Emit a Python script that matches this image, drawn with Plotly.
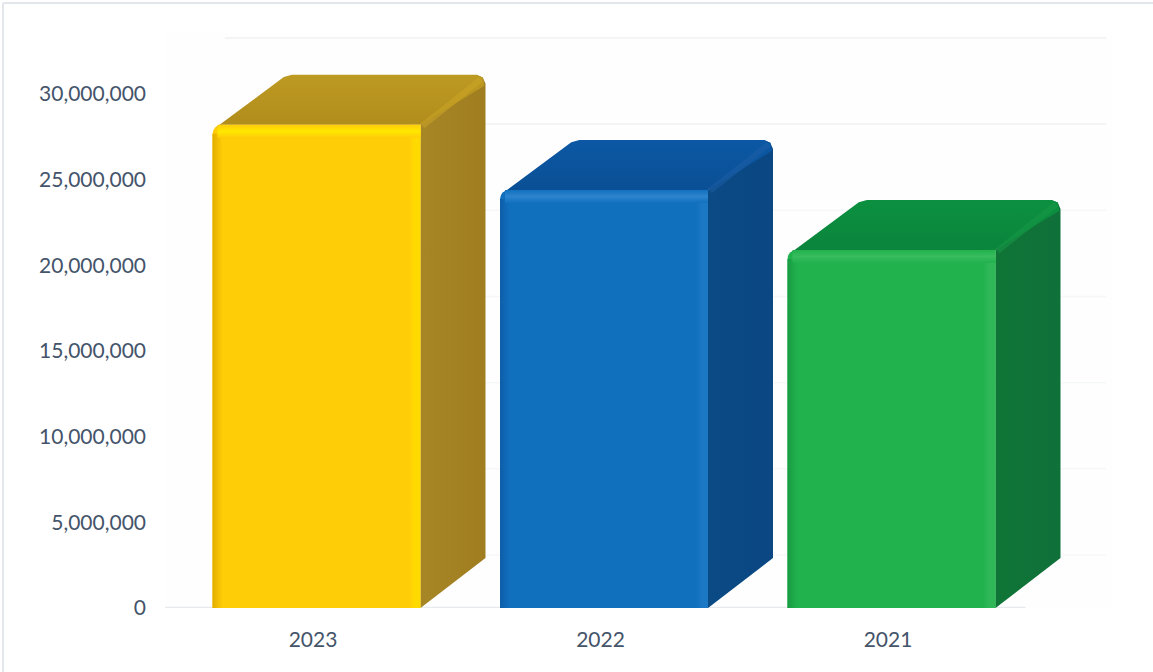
import plotly.graph_objects as go

# Annual totals shown as extruded columns
years = ["2023", "2022", "2021"]
totals = [28200000, 24400000, 20900000]
y_ticks = [0, 5000000, 10000000, 15000000, 20000000, 25000000, 30000000]
wall_levels = [0, 5000000, 10000000, 15000000, 20000000, 25000000, 30000000]
front_colors = ["#FFCC08", "#1170BE", "#21B14D"]
edge_light = ["#FFE800", "#2E84CE", "#38BC5E"]
edge_side = ["#FFDA00", "#1A78C4", "#30B858"]
edge_dark = ["#E2AE00", "#0E5EA8", "#189C42"]
top_colors = [("#B08C1C", "#BD9A22"), ("#0A4F94", "#0C58A4"), ("#0A843B", "#0C9040")]
ridge_colors = ["#CDA726", "#1E5FA8", "#189A48"]
side_colors = [("#A78626", "#A07E20"), ("#0A4A85", "#0B4782"), ("#0F7536", "#10703A")]

WIDTH, HEIGHT = 1153, 672
M_L, M_R, M_T, M_B = 165, 41, 33, 64
STEP_PX = 287.5
UNITS_PER_PX = 30000000 / 514
PLOT_W = WIDTH - M_L - M_R
PLOT_H = HEIGHT - M_T - M_B
X0_PX = 148  # distance from the plot's left edge to the first category
FRAME_INSET = 3

x_range = [-X0_PX / STEP_PX, (PLOT_W - X0_PX) / STEP_PX]
y_range = [0, PLOT_H * UNITS_PER_PX]


def ux(px):
    return px / STEP_PX


def uy(px):
    return px * UNITS_PER_PX


BAR_W = ux(208)
BAR_SHIFT = ux(3.5)
DEPTH_X = ux(65)
DEPTH_Y = uy(50)
positions = list(range(len(years)))

shapes = []

# Back-wall gridlines, raised and shifted by the depth of the box
for level in wall_levels:
    strong = level in (25000000, 30000000)
    wall_y = level + DEPTH_Y + uy(3) + level * 0.006
    shapes.append(dict(
        type="line", layer="below", xref="x", yref="y",
        x0=x_range[0] + ux(60), x1=x_range[1] - ux(6),
        y0=wall_y, y1=wall_y,
        line=dict(color="#EEF0F3" if strong else "#F6F7F8", width=1.5),
    ))

# Floor line under the columns
shapes.append(dict(
    type="line", layer="below", xref="x", yref="y",
    x0=x_range[0], x1=positions[-1] + BAR_SHIFT + BAR_W / 2 + ux(30),
    y0=0, y1=0,
    line=dict(color="#E6EAED", width=2.5),
))

# Frame along the top and left of the page
frame_left = (FRAME_INSET - M_L) / PLOT_W
frame_right = (WIDTH - M_L) / PLOT_W
frame_top = (HEIGHT - M_B - FRAME_INSET) / PLOT_H
frame_bottom = -M_B / PLOT_H
for x0, y0, x1, y1 in [
    (frame_left, frame_top, frame_right, frame_top),
    (frame_left, frame_bottom, frame_left, frame_top),
]:
    shapes.append(dict(
        type="line", layer="below", xref="paper", yref="paper",
        x0=x0, y0=y0, x1=x1, y1=y1,
        line=dict(color="#E3E7EC", width=2),
    ))

fig = go.Figure()

# Front faces
fig.add_trace(go.Bar(
    x=[p + BAR_SHIFT for p in positions],
    y=totals,
    width=BAR_W,
    marker=dict(color=front_colors, line=dict(width=0)),
    hoverinfo="x+y",
    showlegend=False,
))


def polygon(xs, ys, stops, kind):
    n = len(stops) - 1
    fig.add_trace(go.Scatter(
        x=xs + xs[:1], y=ys + ys[:1],
        mode="lines", fill="toself",
        line=dict(width=0),
        fillgradient=dict(type=kind, colorscale=[[k / n, c] for k, c in enumerate(stops)]),
        hoverinfo="skip", showlegend=False,
    ))


for p, v, i in zip(positions, totals, range(3)):
    left = p + BAR_SHIFT - BAR_W / 2
    right = p + BAR_SHIFT + BAR_W / 2
    rx, ry = ux(9), uy(9)
    back_r = right + DEPTH_X
    back_l = left + DEPTH_X
    back_t = v + DEPTH_Y
    front = front_colors[i]

    # Right-hand face, with a rounded upper corner
    polygon(
        [right, back_r, back_r, back_r - rx * 0.3, back_r - rx, right],
        [0, DEPTH_Y, back_t - ry, back_t - ry * 0.3, back_t, v],
        side_colors[i], "horizontal",
    )

    # Top face
    polygon(
        [right, left + ux(9), left + ux(3), back_l + rx * 0.7, back_l + rx * 1.6,
         back_r - rx, back_r - rx * 0.3, back_r - ux(1)],
        [v, v, v - uy(3), back_t - ry * 0.25, back_t,
         back_t, back_t - ry * 0.3, back_t - ry * 1.2],
        top_colors[i], "vertical",
    )

    # Squares off the front face's upper right corner, where it meets the side
    polygon(
        [right - ux(12), right, right, right - ux(12)],
        [v, v, v - uy(12), v - uy(12)],
        [front, front], "vertical",
    )

    # Lighter ridge from the front corner to the rear corner
    fig.add_trace(go.Scatter(
        x=[right + ux(2), back_r - rx * 0.5], y=[v - uy(1), back_t - ry * 0.5],
        mode="lines", line=dict(color=ridge_colors[i], width=6),
        opacity=0.5, hoverinfo="skip", showlegend=False,
    ))

    # Soft bevels down both sides of the front face
    polygon(
        [left, left + ux(10), left + ux(10), left],
        [0, 0, v - uy(9), v - uy(9)],
        [edge_dark[i], front], "horizontal",
    )
    polygon(
        [right - ux(12), right, right, right - ux(12)],
        [0, 0, v - uy(6), v - uy(6)],
        [front, edge_side[i], edge_side[i]], "horizontal",
    )

    # Soft bevel along the top edge of the front face
    polygon(
        [left + ux(5), right, right, left + ux(5)],
        [v, v, v - uy(13), v - uy(13)],
        [front, edge_light[i], front], "vertical",
    )

TEXT = dict(family="Lato, Carlito, sans-serif", size=21, color="#44546A")

fig.update_layout(
    width=WIDTH, height=HEIGHT,
    margin=dict(l=M_L, r=M_R, t=M_T, b=M_B, autoexpand=False),
    paper_bgcolor="white", plot_bgcolor="#FEFEFE",
    barcornerradius=9,
    shapes=shapes,
    xaxis=dict(
        range=x_range, tickmode="array", tickvals=positions, ticktext=years,
        showgrid=False, zeroline=False, showline=False, ticks="",
        tickfont=TEXT, ticklabelstandoff=17,
    ),
    yaxis=dict(
        range=y_range, tickmode="array", tickvals=y_ticks, tickformat=",d",
        showgrid=False, zeroline=False, showline=False, ticks="",
        tickfont=TEXT, ticklabelstandoff=18,
    ),
)

fig.write_html("out.html")
